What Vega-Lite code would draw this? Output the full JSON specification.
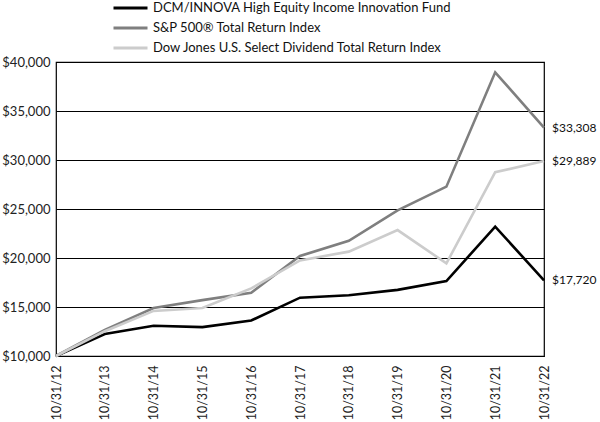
{
  "$schema": "https://vega.github.io/schema/vega-lite/v6.json",
  "width": 488,
  "height": 294,
  "autosize": {"type": "none"},
  "padding": {"left": 56, "top": 62, "right": 56, "bottom": 66},
  "background": "white",
  "config": {
    "font": "Lato",
    "view": {"stroke": "black", "strokeWidth": 1.2},
    "axis": {"labelFont": "Lato", "labelFontSize": 13, "labelColor": "#222"}
  },
  "data": {
    "values": [
      {"date": "10/31/12", "series": "DCM/INNOVA High Equity Income Innovation Fund", "value": 10000},
      {"date": "10/31/13", "series": "DCM/INNOVA High Equity Income Innovation Fund", "value": 12250},
      {"date": "10/31/14", "series": "DCM/INNOVA High Equity Income Innovation Fund", "value": 13080},
      {"date": "10/31/15", "series": "DCM/INNOVA High Equity Income Innovation Fund", "value": 12950},
      {"date": "10/31/16", "series": "DCM/INNOVA High Equity Income Innovation Fund", "value": 13620},
      {"date": "10/31/17", "series": "DCM/INNOVA High Equity Income Innovation Fund", "value": 15950},
      {"date": "10/31/18", "series": "DCM/INNOVA High Equity Income Innovation Fund", "value": 16200},
      {"date": "10/31/19", "series": "DCM/INNOVA High Equity Income Innovation Fund", "value": 16750},
      {"date": "10/31/20", "series": "DCM/INNOVA High Equity Income Innovation Fund", "value": 17650},
      {"date": "10/31/21", "series": "DCM/INNOVA High Equity Income Innovation Fund", "value": 23200},
      {"date": "10/31/22", "series": "DCM/INNOVA High Equity Income Innovation Fund", "value": 17720, "label": "$17,720"},
      {"date": "10/31/12", "series": "S&P 500® Total Return Index", "value": 10000},
      {"date": "10/31/13", "series": "S&P 500® Total Return Index", "value": 12660},
      {"date": "10/31/14", "series": "S&P 500® Total Return Index", "value": 14900},
      {"date": "10/31/15", "series": "S&P 500® Total Return Index", "value": 15700},
      {"date": "10/31/16", "series": "S&P 500® Total Return Index", "value": 16450},
      {"date": "10/31/17", "series": "S&P 500® Total Return Index", "value": 20200},
      {"date": "10/31/18", "series": "S&P 500® Total Return Index", "value": 21750},
      {"date": "10/31/19", "series": "S&P 500® Total Return Index", "value": 24870},
      {"date": "10/31/20", "series": "S&P 500® Total Return Index", "value": 27280},
      {"date": "10/31/21", "series": "S&P 500® Total Return Index", "value": 38950},
      {"date": "10/31/22", "series": "S&P 500® Total Return Index", "value": 33308, "label": "$33,308"},
      {"date": "10/31/12", "series": "Dow Jones U.S. Select Dividend Total Return Index", "value": 10000},
      {"date": "10/31/13", "series": "Dow Jones U.S. Select Dividend Total Return Index", "value": 12530},
      {"date": "10/31/14", "series": "Dow Jones U.S. Select Dividend Total Return Index", "value": 14600},
      {"date": "10/31/15", "series": "Dow Jones U.S. Select Dividend Total Return Index", "value": 14900},
      {"date": "10/31/16", "series": "Dow Jones U.S. Select Dividend Total Return Index", "value": 16900},
      {"date": "10/31/17", "series": "Dow Jones U.S. Select Dividend Total Return Index", "value": 19750},
      {"date": "10/31/18", "series": "Dow Jones U.S. Select Dividend Total Return Index", "value": 20650},
      {"date": "10/31/19", "series": "Dow Jones U.S. Select Dividend Total Return Index", "value": 22850},
      {"date": "10/31/20", "series": "Dow Jones U.S. Select Dividend Total Return Index", "value": 19450},
      {"date": "10/31/21", "series": "Dow Jones U.S. Select Dividend Total Return Index", "value": 28750},
      {"date": "10/31/22", "series": "Dow Jones U.S. Select Dividend Total Return Index", "value": 29889, "label": "$29,889"}
    ]
  },
  "encoding": {
    "x": {
      "field": "date", "type": "ordinal",
      "scale": {"type": "point", "padding": 0},
      "axis": {"title": null, "labelAngle": -90, "labelFontSize": 12.5, "domain": false, "ticks": false, "labelPadding": 9, "grid": false}
    },
    "y": {
      "field": "value", "type": "quantitative",
      "scale": {"domain": [10000, 40000], "nice": false, "zero": false},
      "axis": {"title": null, "values": [10000, 15000, 20000, 25000, 30000, 35000, 40000], "format": "$,.0f", "domain": false, "ticks": false, "labelPadding": 6, "grid": true, "gridColor": "black", "gridOpacity": 1, "gridWidth": 1.2}
    }
  },
  "layer": [
    {
      "mark": {"type": "line", "strokeWidth": 2.6},
      "encoding": {
        "color": {
          "field": "series", "type": "nominal",
          "scale": {
            "domain": ["DCM/INNOVA High Equity Income Innovation Fund", "S&P 500® Total Return Index", "Dow Jones U.S. Select Dividend Total Return Index"],
            "range": ["#000000", "#7f7f7f", "#cccccc"]
          },
          "legend": {
            "title": null, "orient": "none", "legendX": 56, "legendY": -61,
            "symbolType": "stroke", "symbolSize": 1156, "symbolStrokeWidth": 3,
            "labelFont": "Lato", "labelFontSize": 13, "labelColor": "#111", "labelOffset": 4,
            "clipHeight": 14, "rowPadding": 6, "labelLimit": 400
          }
        }
      }
    },
    {
      "transform": [{"filter": "datum.label != null"}],
      "mark": {"type": "text", "align": "left", "dx": 8, "fontSize": 12, "font": "Lato", "color": "#111"},
      "encoding": {"text": {"field": "label"}}
    }
  ]
}
